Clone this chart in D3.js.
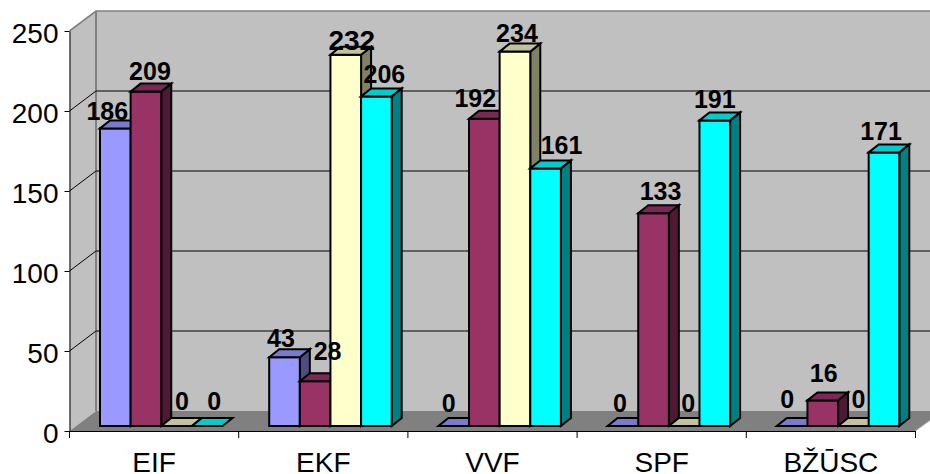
<!DOCTYPE html>
<html><head><meta charset="utf-8">
<script src="https://cdn.jsdelivr.net/npm/d3@7"></script>
<style>html,body{margin:0;padding:0;background:#fff;overflow:hidden}svg{display:block}text{font-family:"Liberation Sans",Arial,sans-serif;fill:#000}</style>
</head><body><svg id="c" width="930" height="474"></svg>
<script>
const categories = ["EIF","EKF","VVF","SPF","BŽŪSC"];
const series1 = [186,43,0,0,0];
const series2 = [209,28,192,133,16];
const series3 = [0,232,234,0,0];
const series4 = [0,206,161,191,171];
const yTicks = [0,50,100,150,200,250];

const allSeries = [series1,series2,series3,series4];
const fronts = ["#9999ff","#993366","#ffffcc","#00ffff"];
const tops   = ["#7a7acc","#7a2952","#c2c29b","#00cccc"];
const sides  = ["#4d4d80","#4d1a33","#808066","#008080"];
// label nudges [series][category] relative to bar centre / bar top
const nudgeX = [[-8,-3.5,-5,-3,-5],[4,12.5,-9,7,1],[5.5,6,2,4,5],[7,8,16,0,-3]];
const nudgeY = [[4,2,-2,-2,-6],[0,-9,0,-1,-6],[-4,7,2,-2,-6],[-4,-1,-2,0,0]];
const labelSize = [[25,25,25,25,25],[25,25,25,25,25],[25,28,25,25,25],[25,25,25,25,25]];

const svg = d3.select("#c");
const y = d3.scaleLinear().domain([0,250]).range([431,31]);
const x = d3.scaleBand().domain(categories).range([69.5,915.5]);
const inner = d3.scaleBand().domain([0,1,2,3]).range([30.5,153]);
const wd = 27, hd = 20, bd = 10, bh = 8, baseLift = 5;
const line = d3.line();

// walls
svg.append("path").attr("d",line([[69.5,31],[96,11],[96,411],[69.5,431]])+"Z").attr("fill","#c0c0c0");
svg.append("rect").attr("x",96).attr("y",y(250)-hd).attr("width",860).attr("height",400).attr("fill","#c0c0c0");
svg.append("path").attr("d",line([[69.5,431],[915.5,431],[943,411],[96,411]])+"Z").attr("fill","#808080");
// wall borders
svg.append("path").attr("d",line([[69.5,31],[96,11],[940,11]])).attr("fill","none").attr("stroke","#808080").attr("stroke-width",1.6);
svg.append("path").attr("d",line([[96,11],[96,411]])).attr("fill","none").attr("stroke","#808080").attr("stroke-width",2);
svg.append("path").attr("d",line([[915.5,431],[930,420.5]])).attr("fill","none").attr("stroke","#c0c0c0");

// grid
yTicks.filter(t=>t>0&&t<250).forEach(t=>{
  svg.append("path").attr("d",line([[69.5,y(t)],[96,y(t)-hd],[940,y(t)-hd]])).attr("fill","none").attr("stroke","#000").attr("stroke-width",1);
});

// axes
const yAxis = svg.append("g").attr("transform","translate(69.5,0)").call(d3.axisLeft(y).tickValues(yTicks).tickSize(5).tickPadding(6).tickSizeOuter(0));
yAxis.selectAll("text").attr("font-size",28).style("font-family",'"Liberation Sans",Arial,sans-serif').attr("dy","11.5px");
yAxis.selectAll("line,path").attr("stroke","#000");
const xAxis = svg.append("g").attr("transform","translate(0,431)").call(d3.axisBottom(x).tickSize(0).tickPadding(0));
xAxis.select("path").attr("stroke","#000");
xAxis.selectAll("text").attr("font-size",28).style("font-family",'"Liberation Sans",Arial,sans-serif').attr("dy",0).attr("y",41);
xAxis.selectAll("line").remove();
svg.append("g").selectAll("line").data(d3.range(categories.length+1)).join("line")
  .attr("x1",i=>i<categories.length?x(categories[i]):x.range()[1]).attr("x2",i=>i<categories.length?x(categories[i]):x.range()[1])
  .attr("y1",431).attr("y2",438).attr("stroke","#000");

// bars
const labels=[];
categories.forEach((c,ci)=>{
  allSeries.forEach((s,si)=>{
    const v=s[ci];
    const x0=x(c)+inner(si), w=inner.bandwidth();
    const yb=y(0)-baseLift, yt=y(v)-baseLift;
    const g=svg.append("g").attr("stroke","#000").attr("stroke-width",2).attr("stroke-linejoin","miter");
    if(v>0){
      g.append("path").attr("d",line([[x0+w,yt],[x0+w+bd,yt-bh],[x0+w+bd,yb-bh],[x0+w,yb]])+"Z").attr("fill",sides[si]);
      g.append("rect").attr("x",x0).attr("y",yt).attr("width",w).attr("height",yb-yt).attr("fill",fronts[si]);
    }
    g.append("path").attr("d",line([[x0,yt],[x0+bd,yt-bh],[x0+w+bd,yt-bh],[x0+w,yt]])+"Z").attr("fill",tops[si]);
    labels.push({v,x:x0+w/2+nudgeX[si][ci],y:yt-12+nudgeY[si][ci],size:labelSize[si][ci]});
  });
});
svg.append("g").selectAll("text").data(labels).join("text")
  .attr("x",d=>d.x).attr("y",d=>d.y).attr("text-anchor","middle")
  .attr("font-size",d=>d.size).attr("font-weight","bold").text(d=>d.v);
</script></body></html>
